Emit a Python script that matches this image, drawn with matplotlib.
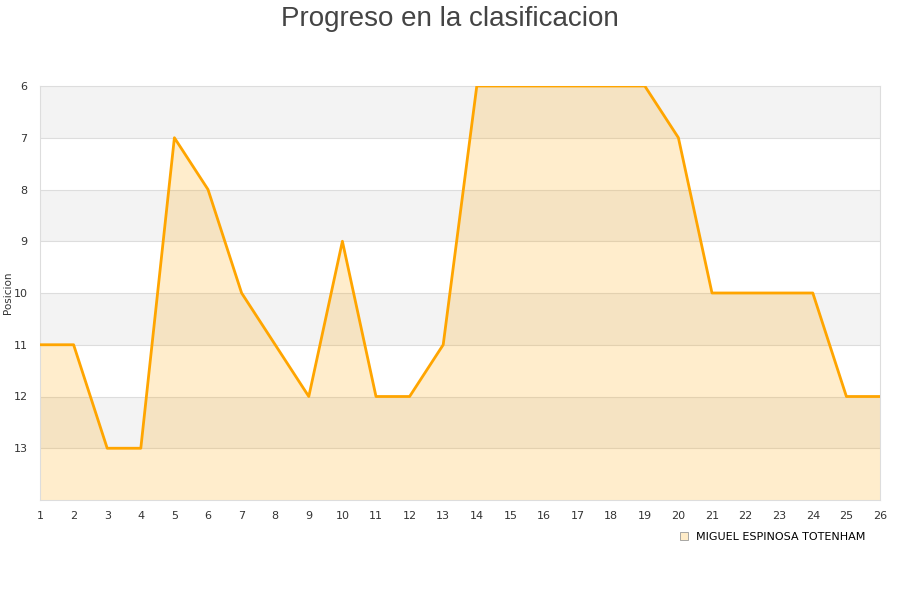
import matplotlib
matplotlib.use('Agg')
import matplotlib.pyplot as plt
from matplotlib.patches import Patch

# datos de la clasificacion por jornada
jornadas = list(range(1, 27))
posiciones = [11, 11, 13, 13, 7, 8, 10, 11, 12, 9, 12, 12, 11,
              6, 6, 6, 6, 6, 6, 7, 10, 10, 10, 10, 12, 12]
equipo = 'MIGUEL ESPINOSA TOTENHAM'
y_ticks = [6, 7, 8, 9, 10, 11, 12, 13]

fig = plt.figure(figsize=(9, 6), dpi=100)
ax = fig.add_axes([40 / 900, 100 / 600, 840 / 900, 414 / 600])

y_min, y_max = 6, 14
# bandas alternas
for y in range(y_min, y_max, 2):
    ax.axhspan(y, y + 1, color='#f3f3f3', zorder=0, lw=0)
for y in y_ticks[1:]:
    ax.axhline(y, color='#dddddd', lw=0.8, zorder=1)

ax.fill_between(jornadas, posiciones, y_max, color='#ffa500', alpha=0.2, lw=0, zorder=2)
ax.plot(jornadas, posiciones, color='#ffa500', lw=2, zorder=3)

ax.set_xlim(1, 26)
ax.set_ylim(y_max, y_min)
ax.set_xticks(jornadas)
ax.set_yticks(y_ticks)
ax.tick_params(length=0, labelsize=8, colors='#333333', pad=8)
ax.tick_params(axis='y', pad=9)
for s in ax.spines.values():
    s.set_color('#dddddd')
fig.text(8 / 900, 1 - 293 / 600, 'Posicion', rotation=90, fontsize=7.5,
         color='#333333', ha='center', va='center')

fig.suptitle('Progreso en la clasificacion', fontsize=20, color='#444444', y=0.99,
             family=['Liberation Sans', 'DejaVu Sans'])

leg = ax.legend(handles=[Patch(facecolor='#ffecc8', edgecolor='#999999', lw=0.6, label=equipo)],
                loc='upper right', bbox_to_anchor=(0.995, -0.052), frameon=False,
                fontsize=8, handlelength=0.7, handleheight=0.7, handletextpad=0.8)

fig.savefig('out.png', dpi=100)
